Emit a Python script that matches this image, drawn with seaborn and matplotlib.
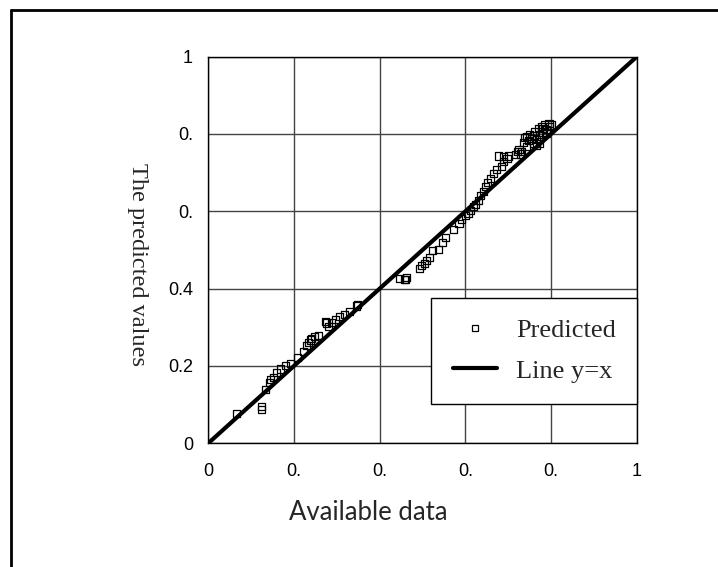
import matplotlib
matplotlib.use("Agg")
import matplotlib.pyplot as plt
import seaborn as sns
import numpy as np
from matplotlib.lines import Line2D

# ---- data ----
available = [0.066, 0.124, 0.124, 0.133, 0.142, 0.145, 0.152, 0.160, 0.168, 0.180,
             0.193, 0.209, 0.222, 0.229, 0.233, 0.238, 0.242, 0.249, 0.258, 0.273,
             0.275, 0.281, 0.288, 0.296, 0.307, 0.319, 0.330, 0.346, 0.348, 0.447,
             0.457, 0.461, 0.463, 0.492, 0.498, 0.504, 0.510, 0.516, 0.523, 0.537,
             0.547, 0.554, 0.573, 0.585, 0.591, 0.600, 0.606, 0.612, 0.618, 0.624,
             0.630, 0.636, 0.642, 0.646, 0.652, 0.658, 0.665, 0.673, 0.677, 0.684,
             0.688, 0.688, 0.697, 0.701, 0.717, 0.722, 0.725, 0.731, 0.735, 0.738,
             0.743, 0.743, 0.750, 0.755, 0.758, 0.762, 0.766, 0.770, 0.773, 0.773,
             0.777, 0.781, 0.785, 0.788, 0.795, 0.797, 0.800, 0.728, 0.748, 0.760,
             0.780, 0.790, 0.765]
predicted = [0.077, 0.087, 0.094, 0.138, 0.158, 0.165, 0.170, 0.182, 0.192, 0.201,
             0.207, 0.221, 0.238, 0.254, 0.260, 0.267, 0.272, 0.277, 0.279, 0.316,
             0.311, 0.302, 0.313, 0.321, 0.327, 0.332, 0.340, 0.355, 0.360, 0.427,
             0.424, 0.423, 0.429, 0.453, 0.459, 0.466, 0.473, 0.481, 0.498, 0.500,
             0.519, 0.533, 0.554, 0.569, 0.580, 0.588, 0.595, 0.603, 0.612, 0.618,
             0.627, 0.640, 0.652, 0.664, 0.675, 0.685, 0.698, 0.708, 0.743, 0.716,
             0.728, 0.741, 0.737, 0.743, 0.746, 0.755, 0.760, 0.754, 0.778, 0.790,
             0.767, 0.793, 0.798, 0.788, 0.776, 0.806, 0.786, 0.815, 0.775, 0.799,
             0.820, 0.815, 0.823, 0.800, 0.828, 0.820, 0.823, 0.748, 0.782, 0.795,
             0.805, 0.812, 0.770]
line_x = [0.0, 1.0]
line_y = [0.0, 1.0]
tick_values = [0.0, 0.2, 0.4, 0.6, 0.8, 1.0]
x_tick_labels = ["0", "0.", "0.", "0.", "0.", "1"]
y_tick_labels = ["0", "0.2", "0.4", "0.", "0.", "1"]
series_names = ["Predicted", "Line y=x"]
x_title = "Available data"
y_title = "The predicted values"

sns.set_style("white")
plt.rcParams['font.family'] = ['Liberation Sans', 'DejaVu Sans']

fig = plt.figure(figsize=(7.18, 5.67), dpi=100)
ax = fig.add_axes([0.290, 0.2182, 0.597, 0.682])

sns.lineplot(x=line_x, y=line_y, ax=ax, color="black", linewidth=3.0, zorder=3)
sns.scatterplot(x=available, y=predicted, ax=ax, marker="s", s=26,
                facecolors="none", edgecolor="black", linewidth=0.9, zorder=4)

ax.set_xlim(0, 1)
ax.set_ylim(0, 1)
ax.set_xticks(tick_values)
ax.set_yticks(tick_values)
ax.set_xticklabels(x_tick_labels)
ax.set_yticklabels(y_tick_labels)
ax.tick_params(axis="both", labelsize=13, colors="black", direction="out",
               length=5, width=1)
ax.tick_params(axis="x", pad=9)
ax.tick_params(axis="y", pad=6)
ax.grid(True, color="#444444", linewidth=1)
for s in ax.spines.values():
    s.set_color("black")
    s.set_linewidth(1)
ax.set_xlabel("")
ax.set_ylabel("")

fig.text(368 / 718, 1 - 512 / 567, x_title, ha="center", va="center",
         fontsize=18.5, family=["Lato", "DejaVu Sans"])
fig.text(137 / 718, 1 - 265 / 567, y_title, ha="center", va="center",
         rotation=270, fontsize=17.5, family=["Liberation Serif", "DejaVu Serif"])

handles = [Line2D([], [], marker="s", linestyle="none", markerfacecolor="none",
                  markeredgecolor="black", markersize=5, markeredgewidth=0.9),
           Line2D([], [], color="black", linewidth=3.0)]
leg = ax.legend(handles, series_names, loc="lower right", bbox_to_anchor=(1.0, 0.102),
                borderaxespad=0, fancybox=False, framealpha=1, edgecolor="black",
                prop={"family": "Liberation Serif", "size": 19},
                handlelength=1.7, handletextpad=0.7, labelspacing=0.65,
                borderpad=0.8)
leg.get_frame().set_linewidth(1)

# outer frame (top and left edges as in the reference)
fig.add_artist(Line2D([11 / 718, 11 / 718], [0, 1 - 10 / 567], transform=fig.transFigure,
                      color="black", linewidth=2))
fig.add_artist(Line2D([11 / 718, 1], [1 - 10 / 567, 1 - 10 / 567], transform=fig.transFigure,
                      color="black", linewidth=2))

fig.savefig("out.png", dpi=100)
